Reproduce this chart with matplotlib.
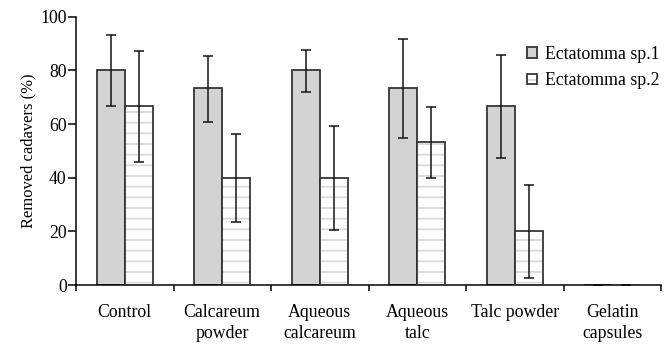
import matplotlib
matplotlib.use("Agg")
import matplotlib.pyplot as plt
import numpy as np
from matplotlib.legend_handler import HandlerTuple

categories = ["Control", "Calcareum\npowder", "Aqueous\ncalcareum",
              "Aqueous\ntalc", "Talc powder", "Gelatin\ncapsules"]
species = ["Ectatomma sp.1", "Ectatomma sp.2"]

# removed cadavers (%), with the error bar ends
sp1 = [80, 73.3, 80, 73.3, 66.7, 0]
sp1_upper = [93.3, 85.5, 87.7, 91.7, 85.8, 0]
sp1_lower = [66.6, 60.9, 71.9, 54.9, 47.3, 0]
sp2 = [66.7, 40, 40, 53.3, 20, 0]
sp2_upper = [87.3, 56.4, 59.3, 66.5, 37.2, 0]
sp2_lower = [45.8, 23.6, 20.6, 40.0, 2.7, 0]

plt.rcParams['font.family'] = 'serif'
plt.rcParams['font.serif'] = ['Liberation Serif', 'TeX Gyre Termes', 'DejaVu Serif']
plt.rcParams['hatch.linewidth'] = 2.2

DPI = 64
fig = plt.figure(figsize=(670 / DPI, 346 / DPI), dpi=DPI)
ax = fig.add_axes([76 / 670, 1 - 285 / 346, (661 - 76) / 670, (285 - 16.7) / 346])

x = np.arange(len(categories))
w = 0.287

err1 = [np.array(sp1) - np.array(sp1_lower), np.array(sp1_upper) - np.array(sp1)]
err2 = [np.array(sp2) - np.array(sp2_lower), np.array(sp2_upper) - np.array(sp2)]

b1 = ax.bar(x - w / 2, sp1, w, color='#d3d3d3', edgecolor='#333333', lw=2, zorder=2)
b2h = ax.bar(x + w / 2, sp2, w, color='white', edgecolor='#dcdcdc', hatch='-', lw=0, zorder=2)
b2e = ax.bar(x + w / 2, sp2, w, fill=False, edgecolor='#333333', lw=2, zorder=3)

ax.errorbar(x - w / 2, sp1, yerr=err1, fmt='none', ecolor='#111111',
            elinewidth=1.7, capsize=6, capthick=1.7, zorder=4)
ax.errorbar(x + w / 2, sp2, yerr=err2, fmt='none', ecolor='#111111',
            elinewidth=1.7, capsize=6, capthick=1.7, zorder=4)

ax.set_xlim(-0.5, len(categories) - 0.5)
ax.set_ylim(0, 100)
ax.spines['top'].set_visible(False)
ax.spines['right'].set_visible(False)
ax.spines['left'].set_linewidth(1.7)
ax.spines['bottom'].set_linewidth(1.7)

ax.set_xticks(x)
ax.set_xticklabels(categories, fontsize=20, linespacing=1.35)
ax.set_xticks(np.arange(-0.5, len(categories), 1), minor=True)
ax.tick_params(axis='x', which='major', length=0, pad=21)
ax.tick_params(axis='x', which='minor', length=7, width=1.7, direction='out')

ax.set_yticks(np.arange(0, 101, 20))
ax.tick_params(axis='y', length=9, width=1.7, pad=1.5, labelsize=20)
ax.set_ylabel('Removed cadavers (%)', fontsize=18.5, labelpad=4)

ax.legend([b1, (b2h, b2e)], species, handler_map={tuple: HandlerTuple(ndivide=1)},
          loc='upper left', bbox_to_anchor=(527 / 670, 1 - 46 / 346),
          bbox_transform=fig.transFigure, frameon=False, fontsize=20,
          handlelength=0.55, handleheight=0.55, handletextpad=0.45,
          labelspacing=0.52, borderpad=0, borderaxespad=0)

fig.savefig('out.png', dpi=DPI)
